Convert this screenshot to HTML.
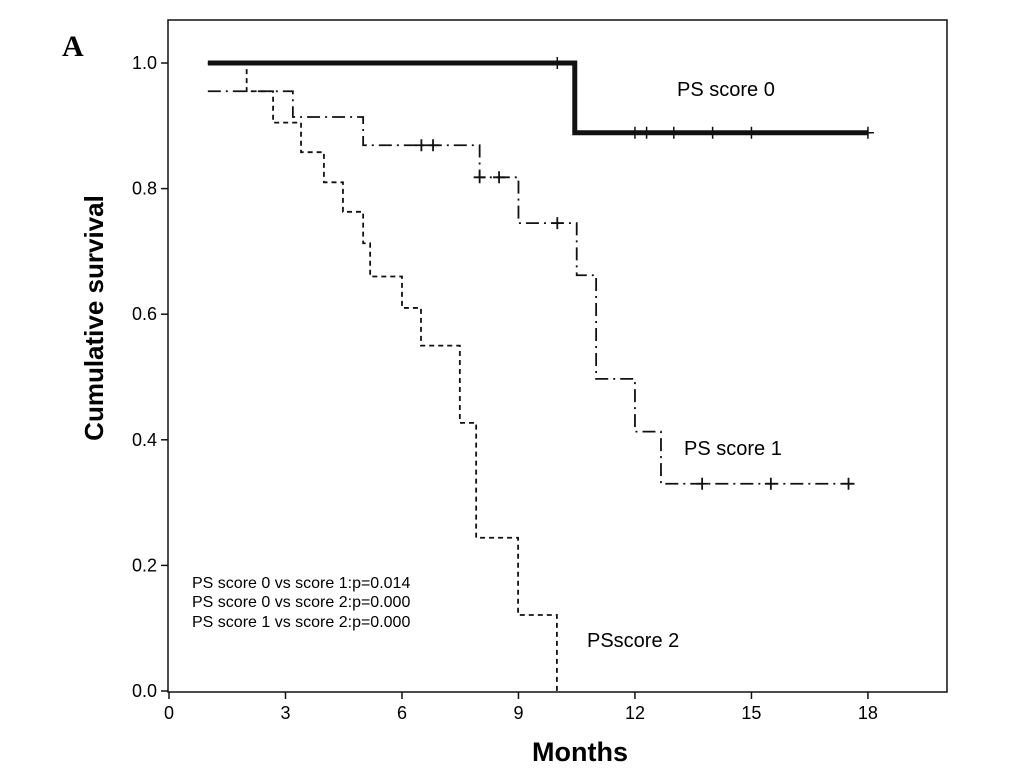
<!DOCTYPE html>
<html><head><meta charset="utf-8"><style>
body{margin:0;background:#fff;}
svg{display:block;font-family:"Liberation Sans",Arial,sans-serif;}
</style></head><body>
<svg id="chart" width="1033" height="777" viewBox="0 0 1033 777">
<text x="62" y="56" font-family="Liberation Serif" font-weight="bold" font-size="30">A</text>
<rect x="168" y="20" width="779" height="672" fill="none" stroke="#111" stroke-width="1.5"/>
<g id="axes"></g>
<g id="series"></g>
<text x="103" y="318" transform="rotate(-90 103 318)" text-anchor="middle" font-weight="bold" font-size="26">Cumulative survival</text>
<text x="580" y="761" text-anchor="middle" font-weight="bold" font-size="27">Months</text>
<text x="677" y="96" font-size="20">PS score 0</text>
<text x="684" y="455" font-size="20">PS score 1</text>
<text x="587" y="647" font-size="20">PSscore 2</text>
<g font-size="16">
<text x="192" y="588">PS score 0 vs score 1:p=0.014</text>
<text x="192" y="607">PS score 0 vs score 2:p=0.000</text>
<text x="192" y="627">PS score 1 vs score 2:p=0.000</text>
</g>
</svg>
<script>
const xTicks=[0,3,6,9,12,15,18];
const yTicks=["0.0","0.2","0.4","0.6","0.8","1.0"];
// step times & survival values
const s0Times=[1,10.45,18];
const s0Vals=[1.0,0.889,0.889];
const s0Censor=[10.0,12.0,12.3,13.0,14.0,15.0,18.0];
const s1Times=[1,3.19,5.0,8.0,9.0,10.5,11.0,12.0,12.67,17.7];
const s1Vals=[0.955,0.914,0.869,0.818,0.745,0.662,0.497,0.413,0.330,0.330];
const s1Censor=[6.5,6.8,8.0,8.5,10.0,13.73,15.5,17.5];
const s2Times=[1,2.0,2.68,3.4,3.99,4.48,5.0,5.18,6.0,6.49,7.49,7.91,8.99,9.99];
const s2Vals=[1.0,0.955,0.905,0.858,0.81,0.763,0.713,0.66,0.61,0.55,0.427,0.244,0.121,0];

const X=v=>169+v*38.83, Y=v=>691-v*628;
const NS="http://www.w3.org/2000/svg";
const ax=document.getElementById('axes'), sg=document.getElementById('series');
function mk(tag,attrs,parent){const e=document.createElementNS(NS,tag);for(const k in attrs)e.setAttribute(k,attrs[k]);parent.appendChild(e);return e;}
xTicks.forEach(t=>{
  const l=mk('line',{x1:X(t),x2:X(t),y1:692,y2:699,stroke:'#111','stroke-width':1.5},ax);
  
  
  const tx=mk('text',{x:X(t),y:719,'text-anchor':'middle','font-size':18},ax);tx.textContent=t;
  
  
});
yTicks.forEach(t=>{
  const v=parseFloat(t);
  const l=mk('line',{x1:161,x2:168,y1:Y(v),y2:Y(v),stroke:'#111','stroke-width':1.5},ax);
  
  
  const tx=mk('text',{x:157,y:Y(v)+6,'text-anchor':'end','font-size':18},ax);tx.textContent=t;
  
  
});
function stepPath(ts,vs){let d=`M${X(ts[0])},${Y(vs[0])}`;for(let i=1;i<ts.length;i++){d+=` H${X(ts[i])} V${Y(vs[i])}`;}return d;}
function valAt(ts,vs,t){let v=vs[0];for(let i=0;i<ts.length;i++){if(ts[i]<=t+1e-9)v=vs[i];}return v;}
function draw(ts,vs,cens,w,dash,name,cw){
  const p=mk('path',{d:stepPath(ts,vs),fill:'none',stroke:'#111','stroke-width':w,'stroke-dasharray':dash},sg);
  
  
  cens.forEach(c=>{
    let v=valAt(ts,vs,c);
    const cm=mk('path',{d:`M${X(c)-6},${Y(v)} H${X(c)+6} M${X(c)},${Y(v)-6} V${Y(v)+6}`,stroke:'#111','stroke-width':cw,fill:'none'},sg);
    
    
  });
}
draw(s2Times,s2Vals,[],1.8,'5,4','ps-score-2-curve',1.5);
draw(s1Times,s1Vals,s1Censor,1.8,'13,5,2,5','ps-score-1-curve',1.8);
draw(s0Times,s0Vals,s0Censor,5,'','ps-score-0-curve',1.5);
</script>
</body></html>
